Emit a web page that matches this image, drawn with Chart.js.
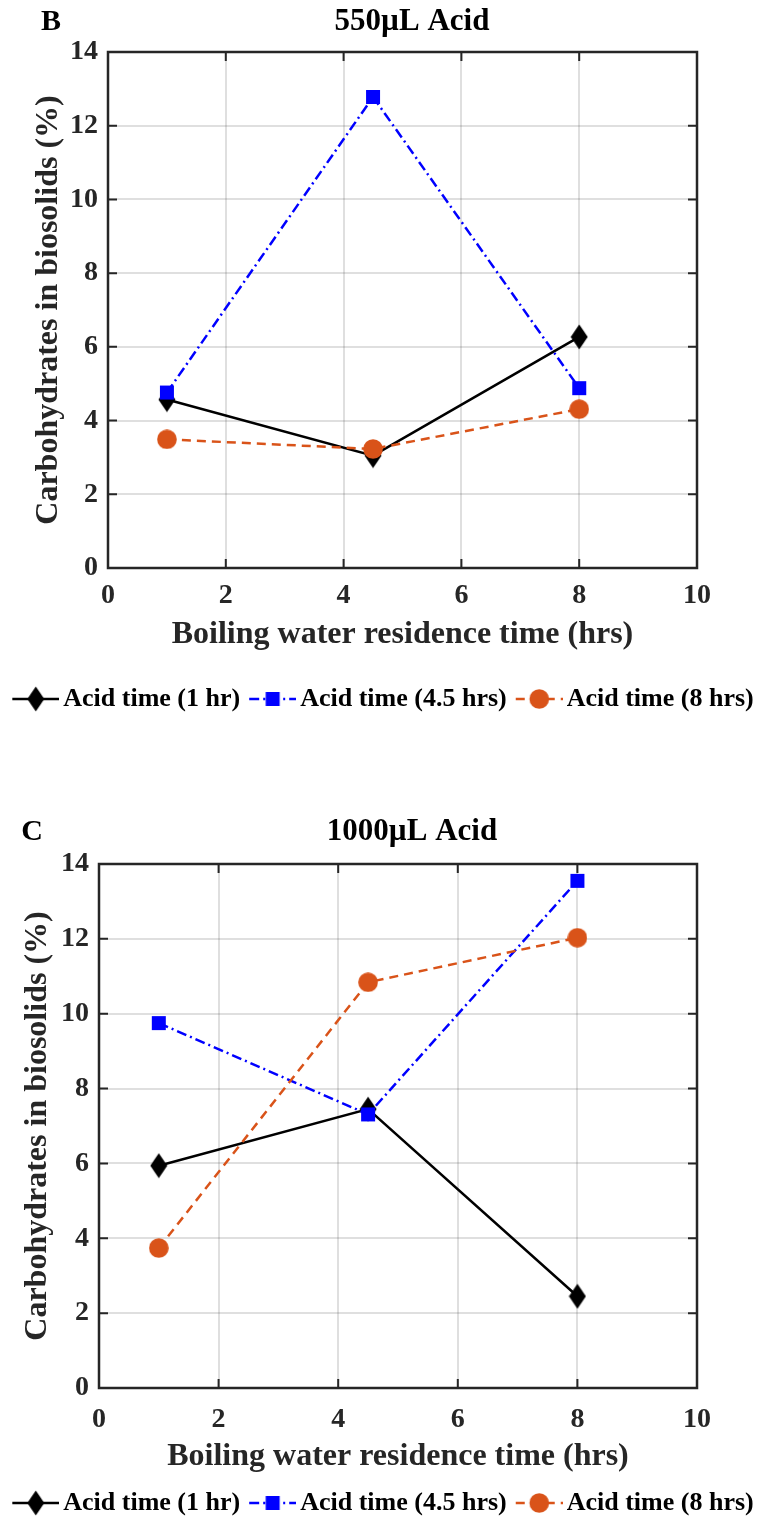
<!DOCTYPE html>
<html>
<head>
<meta charset="utf-8">
<script src="https://cdn.jsdelivr.net/npm/chart.js@4.4.1/dist/chart.umd.min.js"></script>
<style>
  html, body { margin: 0; padding: 0; background: #fff; }
  body { width: 766px; height: 1523px; position: relative; overflow: hidden; }
  canvas { position: absolute; left: 0; }
  #chartB { top: 0; }
  #chartC { top: 760px; }
</style>
</head>
<body>
<canvas id="chartB" width="766" height="760"></canvas>
<canvas id="chartC" width="766" height="763"></canvas>
<script>
// DATA
const boilHours = [1, 4.5, 8];
const xTickValues = [0, 2, 4, 6, 8, 10];
const yTickValues = [0, 2, 4, 6, 8, 10, 12, 14];
const seriesNames = ["Acid time (1 hr)", "Acid time (4.5 hrs)", "Acid time (8 hrs)"];

// 550uL acid (panel B)
const acid550_1hr = [4.57, 3.05, 6.27];
const acid550_45hrs = [4.76, 12.78, 4.88];
const acid550_8hrs = [3.49, 3.23, 4.31];

// 1000uL acid (panel C)
const acid1000_1hr = [5.94, 7.45, 2.45];
const acid1000_45hrs = [9.75, 7.31, 13.55];
const acid1000_8hrs = [3.74, 10.84, 12.03];

const FONT = "'Liberation Serif', 'Times New Roman', serif";
const INK = "#262626";

const seriesStyles = [
    { color: "#000000", shape: "diamond", dash: [] },
    { color: "#0000FF", shape: "square", dash: [10, 4, 2, 4] },
    { color: "#D95319", shape: "circle", dash: [9, 6] }
];

//MARKERS

function drawShape(g, shape, cx, cy) {
    g.beginPath();
    if (shape === "diamond") {
        g.moveTo(cx, cy - 12.5);
        g.lineTo(cx + 8.5, cy);
        g.lineTo(cx, cy + 12.5);
        g.lineTo(cx - 8.5, cy);
        g.closePath();
    } else if (shape === "square") {
        g.rect(cx - 7, cy - 7, 14, 14);
    } else {
        g.arc(cx, cy, 9.8, 0, Math.PI * 2);
    }
    g.fill();
}

function markerCanvas(style) {
    let c = document.createElement("canvas");
    c.width = style.shape === "diamond" ? 18 : 20;
    c.height = style.shape === "diamond" ? 26 : 20;
    let g = c.getContext("2d");
    g.fillStyle = style.color;
    drawShape(g, style.shape, c.width / 2, c.height / 2);
    return c;
}

// line + marker sample for the legend, content sits in the right 47px
function legendCanvas(style) {
    let c = document.createElement("canvas");
    c.width = 56;
    c.height = 26;
    let g = c.getContext("2d");
    g.strokeStyle = style.color;
    g.lineWidth = 2.5;
    g.setLineDash(style.dash);
    g.beginPath();
    g.moveTo(9, 13);
    g.lineTo(56, 13);
    g.stroke();
    g.fillStyle = style.color;
    drawShape(g, style.shape, 32.5, 13);
    return c;
}

const pointImages = seriesStyles.map(markerCanvas);
const legendImages = seriesStyles.map(legendCanvas);

//PLUGINS

const panelText = {
    id: "panelText",
    afterDraw(chart, args, opts) {
        let ctx = chart.ctx;
        ctx.save();
        ctx.fillStyle = "#000";
        ctx.textAlign = "center";
        ctx.textBaseline = "middle";
        ctx.font = "bold 31px " + FONT;
        ctx.fillText(opts.title, opts.titleX, opts.y);
        ctx.font = "bold 30px " + FONT;
        ctx.fillText(opts.letter, opts.letterX, opts.y);
        ctx.restore();
    }
};

// matlab style box with inward ticks on all four sides
const axesBox = {
    id: "axesBox",
    beforeDatasetsDraw(chart) {
        let { ctx, chartArea: a, scales } = chart;
        let tl = 9;
        ctx.save();
        ctx.strokeStyle = INK;
        ctx.lineWidth = 2;
        ctx.beginPath();
        scales.x.ticks.forEach(t => {
            let px = scales.x.getPixelForValue(t.value);
            ctx.moveTo(px, a.bottom); ctx.lineTo(px, a.bottom - tl);
            ctx.moveTo(px, a.top); ctx.lineTo(px, a.top + tl);
        });
        scales.y.ticks.forEach(t => {
            let py = scales.y.getPixelForValue(t.value);
            ctx.moveTo(a.left, py); ctx.lineTo(a.left + tl, py);
            ctx.moveTo(a.right, py); ctx.lineTo(a.right - tl, py);
        });
        ctx.stroke();
        ctx.lineWidth = 2.5;
        ctx.strokeRect(a.left, a.top, a.right - a.left, a.bottom - a.top);
        ctx.restore();
    }
};

//CHARTS

function makePanel(canvasId, seriesValues, L) {
    let datasets = seriesValues.map((vals, i) => ({
        label: seriesNames[i],
        data: boilHours.map((h, k) => ({ x: h, y: vals[k] })),
        borderColor: seriesStyles[i].color,
        backgroundColor: seriesStyles[i].color,
        borderWidth: 2.5,
        borderDash: seriesStyles[i].dash,
        pointStyle: pointImages[i],
        pointRadius: 10,
        pointHoverRadius: 10,
        tension: 0,
        fill: false,
        order: 3 - i
    }));

    let tickFont = { family: FONT, size: 28, weight: "bold" };
    let titleFont = { family: FONT, size: 32, weight: "bold" };
    let gridStyle = { color: "rgba(38,38,38,0.15)", lineWidth: 2, drawTicks: false };

    return new Chart(document.getElementById(canvasId), {
        type: "line",
        data: { datasets: datasets },
        plugins: [axesBox, panelText],
        options: {
            responsive: false,
            animation: false,
            events: [],
            layout: { padding: { top: L.plotTop, right: 0, left: 0, bottom: L.bottomPad } },
            scales: {
                x: {
                    type: "linear",
                    min: 0, max: 10,
                    afterBuildTicks: s => { s.ticks = xTickValues.map(v => ({ value: v })); },
                    afterFit: s => { s.height = L.xHeight; },
                    grid: gridStyle,
                    border: { display: false },
                    ticks: { font: tickFont, color: INK, padding: L.xTickPad, maxRotation: 0, autoSkip: false },
                    title: {
                        display: true, text: "Boiling water residence time (hrs)",
                        font: titleFont, color: INK, padding: { top: 0, bottom: L.xTitlePad }
                    }
                },
                y: {
                    type: "linear",
                    min: 0, max: 14,
                    afterBuildTicks: s => { s.ticks = yTickValues.map(v => ({ value: v })); },
                    afterFit: s => { s.width = L.yWidth; },
                    grid: gridStyle,
                    border: { display: false },
                    ticks: { font: tickFont, color: INK, padding: 10, autoSkip: false },
                    title: {
                        display: true, text: "Carbohydrates in biosolids (%)",
                        font: titleFont, color: INK, padding: { top: L.yTitlePad, bottom: 0 }
                    }
                },
                // empty right axis only to keep room on the right of the plot
                yRight: {
                    type: "linear", position: "right", display: true,
                    afterFit: s => { s.width = 69; },
                    grid: { display: false }, border: { display: false },
                    ticks: { display: false }
                }
            },
            plugins: {
                tooltip: { enabled: false },
                legend: {
                    position: "bottom",
                    labels: {
                        usePointStyle: true,
                        pointStyleWidth: 38,
                        boxHeight: 26,
                        padding: 9,
                        color: "#000",
                        font: { family: FONT, size: 26, weight: "bold" },
                        generateLabels: chart => chart.data.datasets.map((ds, i) => ({
                            text: ds.label,
                            pointStyle: legendImages[i],
                            datasetIndex: i,
                            hidden: false,
                            lineWidth: 0,
                            fillStyle: "transparent",
                            strokeStyle: "transparent",
                            fontColor: "#000"
                        }))
                    }
                },
                panelText: { letter: L.letter, title: L.title, letterX: L.letterX, titleX: 412, y: L.titleY }
            }
        }
    });
}

makePanel("chartB", [acid550_1hr, acid550_45hrs, acid550_8hrs], {
    plotTop: 52, bottomPad: 38, xHeight: 109, yWidth: 108,
    xTickPad: 11, xTitlePad: 22.8, yTitlePad: 29.8,
    letter: "B", title: "550\u00B5L Acid", letterX: 51, titleY: 22
});

makePanel("chartC", [acid1000_1hr, acid1000_45hrs, acid1000_8hrs], {
    plotTop: 104, bottomPad: -3, xHeight: 93, yWidth: 99,
    xTickPad: 14.5, xTitlePad: 4.8, yTitlePad: 18.8,
    letter: "C", title: "1000\u00B5L Acid", letterX: 32, titleY: 72
});
</script>
</body>
</html>
